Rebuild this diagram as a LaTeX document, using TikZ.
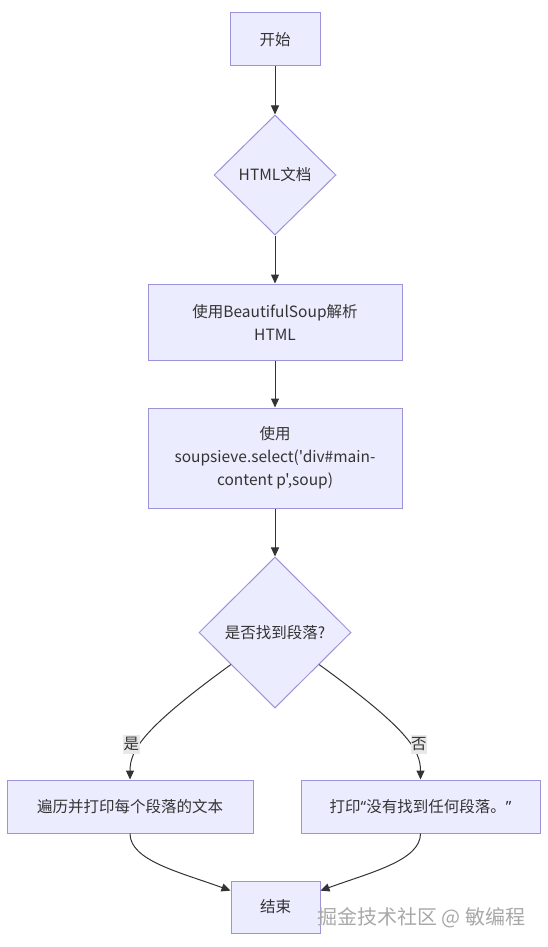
\documentclass[tikz,border=0pt]{standalone}
\usepackage{fontspec}
\setmainfont{Noto Sans CJK SC}[Ligatures=TeXOff]
\newfontfamily\quotefont{Noto Sans}
\usetikzlibrary{shapes.geometric,arrows.meta}
\definecolor{nodefill}{HTML}{ECECFF}
\definecolor{nodeline}{HTML}{9D93D8}
\definecolor{edgeline}{HTML}{333333}
\definecolor{labelfill}{HTML}{E8E8E8}
\definecolor{markgray}{HTML}{A8A8A8}

\begin{document}
\begin{tikzpicture}[x=1pt,y=-1pt,
    box/.style={draw=nodeline, fill=nodefill, line width=1pt, text=edgeline,
        inner sep=0pt, align=center, font=\fontsize{15.5}{23}\selectfont},
    decision/.style={box, diamond},
    flow/.style={draw=edgeline, line width=1pt, -{Triangle[length=9pt,width=8pt]}},
    answer/.style={fill=labelfill, text=edgeline, inner xsep=0.5pt, inner ysep=3pt,
        font=\fontsize{15.5}{23}\selectfont}]
    \useasboundingbox (0,0) rectangle (547,947);

    \node[box, minimum width=90pt, minimum height=53pt] (start) at (275,39.5) {开始};
    \node[decision, minimum width=122pt, minimum height=120pt] (html) at (275,175) {HTML文档};
    \node[box, minimum width=254pt, minimum height=76pt] (parse) at (275,322)
        {使用BeautifulSoup解析\\HTML};
    \node[box, minimum width=254pt, minimum height=100pt] (select) at (275,458)
        {使用\\soupsieve.select('div\#main-\\content p',soup)};
    \node[decision, minimum width=152pt, minimum height=151pt] (found) at (275,632.5) {是否找到段落?};
    \node[box, minimum width=246pt, minimum height=53pt] (loop) at (130,806.5) {遍历并打印每个段落的文本};
    \node[box, minimum width=239pt, minimum height=53pt] (none) at (420.5,806.5)
        {打印{\quotefont“}没有找到任何段落。{\quotefont”}};
    \node[box, minimum width=89pt, minimum height=52pt] (end) at (275.5,907) {结束};

    \draw[flow] (start) -- (html);
    \draw[flow] (html) -- (parse);
    \draw[flow] (parse) -- (select);
    \draw[flow] (select) -- (found);
    \draw[flow] (found) to[out=-144, in=90, out looseness=1.8, in looseness=0.5]
        node[answer, pos=0.6, xshift=-9pt] {是} (loop);
    \draw[flow] (found) to[out=-36, in=90, out looseness=1.8, in looseness=0.5]
        node[answer, pos=0.6, xshift=9pt] {否} (none);
    \draw[flow] (loop) to[out=-90, in=160, out looseness=0.6, in looseness=1.2] (end);
    \draw[flow] (none) to[out=-90, in=20, out looseness=0.6, in looseness=1.2] (end);

    \node[text=markgray, anchor=west, inner sep=0pt, font=\fontsize{20}{24}\selectfont]
        (mark) at (317,918) {掘金技术社区 @ 敏编程};
\end{tikzpicture}
\end{document}
